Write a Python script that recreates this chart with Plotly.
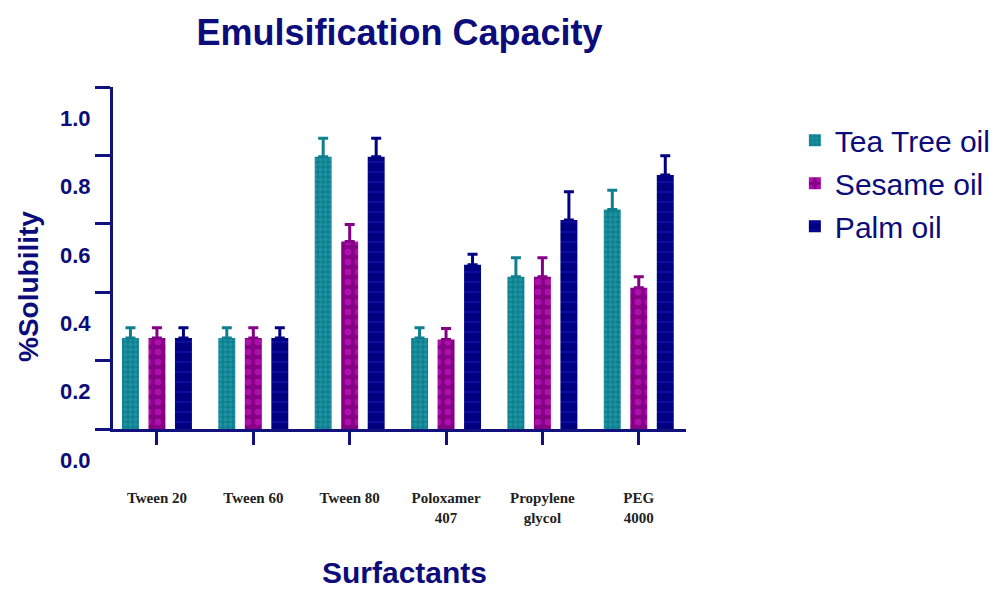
import plotly.graph_objects as go

categories = ["Tween 20", "Tween 60", "Tween 80", "Poloxamer<br>407", "Propylene<br>glycol", "PEG<br>4000"]
series_names = ["Tea Tree oil", "Sesame oil", "Palm oil"]
tea_tree = [0.266, 0.266, 0.796, 0.266, 0.445, 0.642]
tea_tree_err = [0.030, 0.030, 0.054, 0.030, 0.056, 0.056]
sesame = [0.266, 0.266, 0.548, 0.262, 0.445, 0.413]
sesame_err = [0.030, 0.030, 0.050, 0.032, 0.056, 0.032]
palm = [0.266, 0.266, 0.796, 0.480, 0.611, 0.743]
palm_err = [0.030, 0.030, 0.054, 0.031, 0.083, 0.056]
y_ticks = [0.0, 0.2, 0.4, 0.6, 0.8, 1.0]
y_ticktext = ["0.0", "0.2", "0.4", "0.6", "0.8", "1.0"]

values = [tea_tree, sesame, palm]
errors = [tea_tree_err, sesame_err, palm_err]
base_colors = ["#0e7f8e", "#860086", "#000080"]
fg_colors = ["#2ea6b6", "#d41ed4", "#2020d4"]
shapes = [".", ".", "-"]
sizes = [5, 10, 10]
solid = [0.45, 0.35, 0.15]

NAVY = "#0c0c7a"
AXIS = "#12127e"

fig = go.Figure()
for i in range(3):
    fig.add_trace(go.Bar(
        x=categories, y=values[i], name=series_names[i], legendgroup=series_names[i],
        marker=dict(color=base_colors[i], line=dict(width=0),
                    pattern=dict(shape=shapes[i], fgcolor=fg_colors[i], bgcolor=base_colors[i],
                                 size=sizes[i], solidity=solid[i], fillmode="overlay")),
        error_y=dict(type="data", symmetric=False, array=errors[i], arrayminus=[0] * len(errors[i]),
                     color=base_colors[i], thickness=3, width=5),
    ))

fig.update_layout(
    width=997, height=590,
    margin=dict(l=113, r=311, t=87, b=161, autoexpand=False),
    paper_bgcolor="white", plot_bgcolor="white",
    barmode="group", bargap=0.175, bargroupgap=0.36,
    font=dict(family="Liberation Sans, Arial, sans-serif", color=NAVY),
    title=dict(text="<b>Emulsification Capacity</b>", x=0.5, xref="paper", xanchor="center",
               y=1 - 32 / 590, yanchor="middle", font=dict(size=36, color=NAVY)),
    legend=dict(x=1.19, y=0.92, xanchor="left", yanchor="top", tracegroupgap=1,
                font=dict(size=30, color=NAVY), bgcolor="rgba(0,0,0,0)"),
    showlegend=True,
)

fig.update_xaxes(
    type="category", range=[-0.456, 5.49],
    showline=True, linewidth=3, linecolor=AXIS,
    ticks="outside", ticklen=13, tickwidth=3, tickcolor=AXIS,
    tickfont=dict(family="Liberation Serif, Times New Roman, serif", size=15, color="#222222",
                  weight="bold"),
    ticklabelstandoff=40, showgrid=False, zeroline=False,
)
fig.update_yaxes(
    range=[0, 1.0], tickvals=y_ticks, ticktext=["<b>%s</b>" % t for t in y_ticktext],
    showline=True, linewidth=3, linecolor=AXIS,
    ticks="outside", ticklen=15, tickwidth=3, tickcolor=AXIS,
    tickfont=dict(size=22, color=NAVY), ticklabelshift=31,
    showgrid=False, zeroline=False,
)

fig.add_annotation(text="<b>%Solubility</b>", xref="paper", yref="paper",
                   x=(28 - 113) / 573, y=(429 - 287) / 342, textangle=-90,
                   xanchor="center", yanchor="middle", showarrow=False,
                   font=dict(size=28, color=NAVY))
fig.add_annotation(text="<b>Surfactants</b>", xref="paper", yref="paper",
                   x=(404 - 113) / 573, y=(429 - 572) / 342,
                   xanchor="center", yanchor="middle", showarrow=False, borderpad=0,
                   font=dict(size=30, color=NAVY))

fig.write_html("out.html", post_script="document.body.style.margin='0px';",
               config={"displayModeBar": False})
